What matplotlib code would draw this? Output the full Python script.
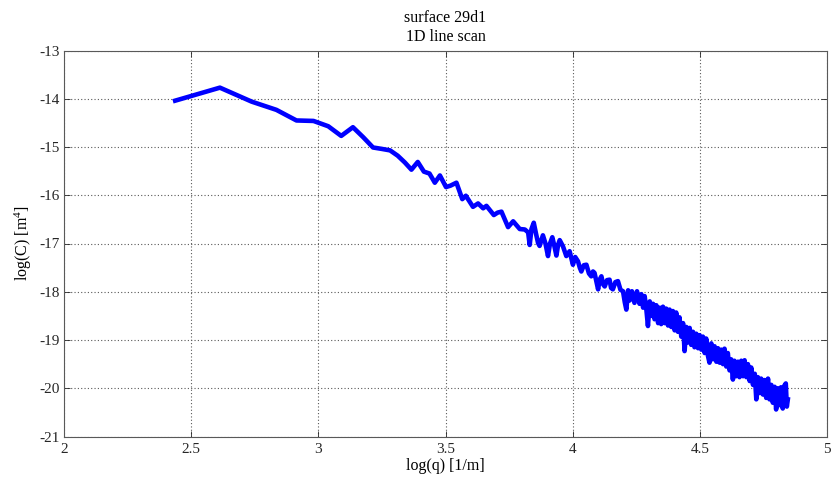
import numpy as np
import matplotlib
matplotlib.use('Agg')
import matplotlib.pyplot as plt

plt.rcParams['font.family'] = ['Liberation Serif', 'DejaVu Serif']
plt.rcParams['mathtext.fontset'] = 'custom'
plt.rcParams['mathtext.rm'] = 'Liberation Serif'
plt.rcParams['mathtext.it'] = 'Liberation Serif:italic'

# power spectrum, log10 of wavenumber vs log10 of C(q)
log_q = [
    2.437, 2.613, 2.738, 2.835, 2.914, 2.981, 3.039, 3.090, 3.136, 3.177,
    3.215, 3.250, 3.282, 3.312, 3.340, 3.366, 3.391, 3.415, 3.437, 3.458,
    3.478, 3.502, 3.520, 3.543, 3.566, 3.580, 3.608, 3.628, 3.648, 3.661,
    3.690, 3.705, 3.720, 3.746, 3.766, 3.792, 3.812, 3.825, 3.831, 3.838,
    3.847, 3.856, 3.864, 3.870, 3.883, 3.893, 3.903, 3.911, 3.920, 3.928,
    3.936, 3.943, 3.949, 3.962, 3.975, 3.988, 4.001, 4.010, 4.021, 4.028,
    4.034, 4.044, 4.054, 4.064, 4.073, 4.080, 4.086, 4.093, 4.100, 4.106,
    4.113, 4.120, 4.126, 4.135, 4.145, 4.151, 4.158, 4.168, 4.178, 4.188,
    4.198, 4.205, 4.211, 4.218, 4.224, 4.233, 4.243, 4.253, 4.263, 4.270,
    4.277, 4.283, 4.290, 4.296, 4.303, 4.309, 4.316, 4.322, 4.329, 4.336,
    4.342, 4.348, 4.355, 4.362, 4.368, 4.375, 4.381, 4.388, 4.394, 4.401,
    4.407, 4.414, 4.420, 4.427, 4.434, 4.440, 4.447, 4.453, 4.460, 4.466,
    4.473, 4.479, 4.486, 4.493, 4.499, 4.506, 4.512, 4.519, 4.525, 4.532,
    4.538, 4.545, 4.551, 4.558, 4.565, 4.571, 4.578, 4.584, 4.591, 4.597,
    4.604, 4.610, 4.617, 4.623, 4.630, 4.636, 4.643, 4.650, 4.656, 4.663,
    4.670, 4.676, 4.683, 4.689, 4.696, 4.702, 4.709, 4.716, 4.722, 4.728,
    4.735, 4.741, 4.748, 4.754, 4.761, 4.768, 4.774, 4.781, 4.787, 4.794,
    4.800, 4.806, 4.813, 4.819, 4.826, 4.832, 4.838, 4.842, 4.846,
]
log_C = [
    -14.04, -13.77, -14.06, -14.23, -14.45, -14.46, -14.57, -14.77, -14.59, -14.80,
    -15.01, -15.04, -15.07, -15.18, -15.32, -15.47, -15.31, -15.51, -15.55, -15.74,
    -15.59, -15.83, -15.80, -15.74, -16.08, -16.01, -16.24, -16.17, -16.27, -16.22,
    -16.41, -16.36, -16.34, -16.66, -16.54, -16.70, -16.71, -16.77, -17.03, -16.70,
    -16.57, -16.80, -16.99, -17.05, -16.83, -17.00, -17.26, -17.00, -16.87, -17.05,
    -17.25, -17.02, -16.93, -17.06, -17.26, -17.16, -17.44, -17.28, -17.37, -17.50,
    -17.58, -17.45, -17.44, -17.62, -17.68, -17.58, -17.61, -17.78, -17.95, -17.75,
    -17.68, -17.85, -17.89, -17.76, -17.75, -17.92, -17.95, -17.80, -17.78, -17.96,
    -17.99, -18.22, -18.37, -17.97, -18.18, -17.99, -18.23, -17.99, -18.25, -18.05,
    -18.33, -18.09, -18.38, -18.71, -18.20, -18.50, -18.25, -18.57, -18.28, -18.65,
    -18.33, -18.67, -18.31, -18.65, -18.35, -18.70, -18.37, -18.73, -18.40, -18.80,
    -18.43, -18.83, -18.53, -18.93, -18.65, -19.23, -18.73, -19.05, -18.75, -19.10,
    -18.83, -19.15, -18.87, -19.17, -18.90, -19.20, -18.93, -19.27, -18.97, -19.33,
    -19.47, -19.07, -19.40, -19.13, -19.45, -19.17, -19.47, -19.20, -19.50, -19.18,
    -19.55, -19.27, -19.63, -19.40, -19.82, -19.43, -19.75, -19.45, -19.77, -19.43,
    -19.75, -19.42, -19.77, -19.50, -19.85, -19.57, -19.93, -19.70, -20.23, -19.77,
    -20.10, -19.80, -20.13, -19.83, -20.20, -19.80, -20.23, -19.93, -20.30, -19.97,
    -20.44, -20.00, -20.35, -19.98, -20.42, -19.95, -19.90, -20.38, -20.23,
]

x_ticks = [2, 2.5, 3, 3.5, 4, 4.5, 5]
y_ticks = [-21, -20, -19, -18, -17, -16, -15, -14, -13]

fig = plt.figure(figsize=(8.32, 4.78), dpi=100)
ax = fig.add_axes([64 / 832, 1 - 436.5 / 478, (827 - 64) / 832, (436.5 - 50.5) / 478])

ax.plot(log_q, log_C, color=(0, 0, 1), lw=3.3, solid_joinstyle='round')

ax.set_xlim(2, 5)
ax.set_ylim(-21, -13)
ax.set_xticks(x_ticks)
ax.set_xticklabels([f'{t:g}' for t in x_ticks])
ax.set_yticks(y_ticks)
ax.set_yticklabels([f'{t:g}' for t in y_ticks])
ax.grid(True, linestyle=(0, (1, 2)), color='0.35', lw=0.8)
ax.tick_params(direction='in', top=True, right=True, length=4, width=0.6,
               labelsize=11, colors='0.15')
ax.tick_params(axis='x', pad=5)
ax.tick_params(axis='y', pad=3)
for s in ax.spines.values():
    s.set_color('0.35')
    s.set_linewidth(0.8)

ax.set_xlabel('log(q) [1/m]', fontsize=11.5, labelpad=1)
ax.set_ylabel('log(C) [m$^4$]', fontsize=11.5, labelpad=4)
ax.set_title('surface 29d1\n1D line scan', fontsize=11.5, linespacing=1.2, pad=7)

fig.savefig('out.png', dpi=100)
